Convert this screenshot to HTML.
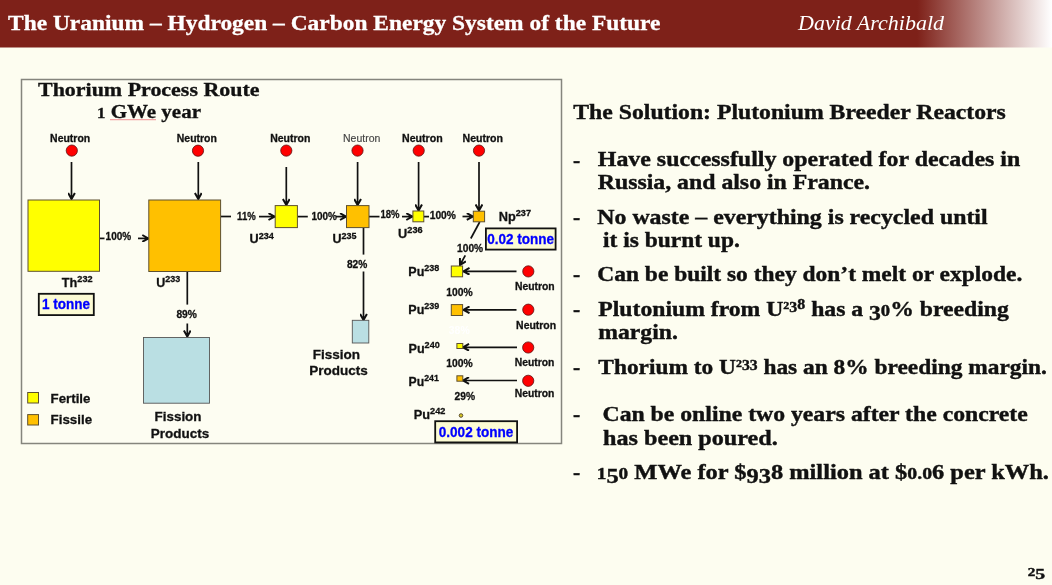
<!DOCTYPE html>
<html><head><meta charset="utf-8">
<style>
html,body{margin:0;padding:0;}
body{width:1052px;height:585px;overflow:hidden;background:#fdfdf0;position:relative;}
svg{position:absolute;left:0;top:0;will-change:transform;}
.sv{font-family:"Liberation Serif",serif;font-weight:bold;}
.sa{font-family:"Liberation Sans",sans-serif;font-weight:bold;stroke:currentColor;stroke-width:0.3px;}
</style></head><body>
<svg width="1052" height="585" viewBox="0 0 1052 585">
<defs>
<linearGradient id="hg" x1="0" y1="0" x2="1052" y2="0" gradientUnits="userSpaceOnUse">
<stop offset="0.872" stop-color="#7e2119"/>
<stop offset="1" stop-color="#ffffff"/>
</linearGradient>
<marker id="ah" markerWidth="8" markerHeight="8" refX="7" refY="4" orient="auto" markerUnits="userSpaceOnUse">
<path d="M1,0.6 L7,4 L1,7.4" fill="none" stroke="#111" stroke-width="2"/><path d="M3.5,2.3 L7.3,4 L3.5,5.7 z" fill="#111"/>
</marker>
</defs>
<rect x="0" y="0" width="1052" height="47.5" fill="url(#hg)"/>
<text class="sv" x="8" y="29.7" font-size="22" fill="#fff" stroke="#fff" stroke-width="0.3" textLength="652.5" lengthAdjust="spacingAndGlyphs">The Uranium – Hydrogen – Carbon Energy System of the Future</text>
<text x="798" y="29.7" font-size="21" fill="#fff" textLength="146" lengthAdjust="spacingAndGlyphs" style="font-family:'Liberation Serif',serif;font-style:italic">David Archibald</text>

<!-- diagram box -->
<rect x="21.5" y="79.5" width="540" height="364" fill="#fdfdf2" stroke="#85857d" stroke-width="1.5"/>
<text class="sv" x="38" y="95.6" font-size="18.5" fill="#111" stroke="#111" stroke-width="0.3" textLength="221.5" lengthAdjust="spacingAndGlyphs">Thorium Process Route</text>
<text class="sv" x="97" y="118" font-size="18.5" fill="#111" stroke="#111" stroke-width="0.3" textLength="104" lengthAdjust="spacingAndGlyphs"><tspan font-size="14.8">1</tspan> GWe year</text>
<path d="M110,119.6 L156,119.6" fill="none" stroke="#f2a4a4" stroke-width="1.1"/>

<g class="sa" font-size="10.5" fill="#111" color="#111">
<text x="50.1" y="141.7" textLength="40.1" lengthAdjust="spacingAndGlyphs">Neutron</text>
<text x="176.8" y="141.7" textLength="40" lengthAdjust="spacingAndGlyphs">Neutron</text>
<text x="270.2" y="141.7" textLength="40.2" lengthAdjust="spacingAndGlyphs">Neutron</text>
<text x="343" y="141.7" textLength="37.3" lengthAdjust="spacingAndGlyphs" fill="#444" color="#444" style="font-weight:normal;stroke-width:0.15px">Neutron</text>
<text x="402" y="141.7" textLength="40.6" lengthAdjust="spacingAndGlyphs">Neutron</text>
<text x="462.5" y="141.7" textLength="40.5" lengthAdjust="spacingAndGlyphs">Neutron</text>
<text x="515" y="289.9" textLength="39.7" lengthAdjust="spacingAndGlyphs">Neutron</text>
<text x="516.1" y="328.9" textLength="40" lengthAdjust="spacingAndGlyphs">Neutron</text>
<text x="514.7" y="365.5" textLength="39.6" lengthAdjust="spacingAndGlyphs">Neutron</text>
<text x="514.7" y="397.4" textLength="39.6" lengthAdjust="spacingAndGlyphs">Neutron</text>
</g>
<g fill="#ff0000" stroke="#5a1010" stroke-width="0.8">
<circle cx="71.8" cy="150.6" r="5.6"/>
<circle cx="198" cy="150.7" r="5.6"/>
<circle cx="286.3" cy="150.6" r="5.6"/>
<circle cx="357.5" cy="150.6" r="5.6"/>
<circle cx="418.7" cy="150.6" r="5.6"/>
<circle cx="479" cy="150.6" r="5.6"/>
<circle cx="528.3" cy="271.4" r="5.6"/>
<circle cx="528.3" cy="309.7" r="5.6"/>
<circle cx="528.2" cy="347.5" r="5.6"/>
<circle cx="528.2" cy="380.8" r="5.6"/>
</g>
<g stroke="#111" stroke-width="1.7" fill="none" marker-end="url(#ah)">
<line x1="71.5" y1="162" x2="71.5" y2="199"/>
<line x1="198.3" y1="162" x2="198.3" y2="199"/>
<line x1="286.3" y1="167" x2="286.3" y2="205"/>
<line x1="357.6" y1="162" x2="357.6" y2="205"/>
<line x1="418.6" y1="162" x2="418.6" y2="210.5"/>
<line x1="479" y1="162" x2="479" y2="210.5"/>
<line x1="138" y1="238.4" x2="148.3" y2="238.4"/>
<line x1="259" y1="216.6" x2="274.5" y2="216.6"/>
<line x1="336" y1="216.6" x2="346" y2="216.6"/>
<line x1="402" y1="216.6" x2="412.3" y2="216.6"/>
<line x1="462.5" y1="216.5" x2="472.8" y2="216.5"/>
<line x1="465.3" y1="255.3" x2="460" y2="265"/>
<line x1="516.5" y1="271.3" x2="463.5" y2="271.3"/>
<line x1="516.5" y1="309.8" x2="463.5" y2="309.8"/>
<line x1="517" y1="347.3" x2="463" y2="347.3"/>
<line x1="517" y1="380.5" x2="463" y2="380.5"/>
<line x1="187.3" y1="323.5" x2="187.3" y2="336.5"/>
<line x1="363.5" y1="271.5" x2="363.5" y2="320"/>
</g>
<g stroke="#111" stroke-width="1.7" fill="none">
<line x1="100" y1="238.4" x2="104.5" y2="238.4"/>
<line x1="221" y1="216.5" x2="231" y2="216.5"/>
<line x1="297.5" y1="216.6" x2="307.8" y2="216.6"/>
<line x1="369" y1="216.6" x2="379.5" y2="216.6"/>
<line x1="424" y1="216.6" x2="429" y2="216.6"/>
<line x1="479.7" y1="222" x2="470.8" y2="238.5"/>
<line x1="187.3" y1="271.5" x2="187.3" y2="304.6"/>
<line x1="363.5" y1="227.5" x2="363.5" y2="254.6"/>
</g>
<!-- boxes -->
<g stroke="#5e5030" stroke-width="1">
<rect x="28" y="200" width="71.5" height="71.3" fill="#ffff00"/>
<rect x="148.8" y="200" width="71.8" height="71.5" fill="#ffc000"/>
<rect x="275.2" y="205.6" width="22.2" height="22" fill="#ffff00"/>
<rect x="346.5" y="205.6" width="22.5" height="22" fill="#ffc000"/>
<rect x="412.9" y="211" width="10.9" height="10.8" fill="#ffff00"/>
<rect x="473.3" y="211.2" width="11.3" height="10.6" fill="#ffc000"/>
<rect x="451.3" y="266" width="11.3" height="10.8" fill="#ffff00"/>
<rect x="451.3" y="304.6" width="11.3" height="10.9" fill="#ffc000"/>
<rect x="456.9" y="343.5" width="5.9" height="5" fill="#ffff00"/>
<rect x="456.9" y="375.8" width="5.9" height="5.4" fill="#ffc000"/>
<circle cx="461" cy="415.5" r="1.8" fill="#d8c820"/>
<rect x="27.7" y="392.5" width="10.8" height="10.5" fill="#ffff00"/>
<rect x="27.7" y="414.6" width="10.8" height="10.4" fill="#ffc000"/>
</g>
<g stroke="#555" stroke-width="0.9" fill="#badfe3">
<rect x="143.5" y="337.5" width="66" height="65.7"/>
<rect x="352.3" y="320.3" width="16.5" height="22.7"/>
</g>
<!-- tonne boxes -->
<g stroke="#111" stroke-width="1.8" fill="#fcfbd4">
<rect x="38.8" y="293.8" width="55" height="21.3"/>
<rect x="485.9" y="228.4" width="69.7" height="21.2"/>
<rect x="435.2" y="421.2" width="81.9" height="21.2"/>
</g>
<g class="sa" fill="#0000ff" color="#0000ff" font-size="13.8">
<text x="42" y="309.2" textLength="47.9" lengthAdjust="spacingAndGlyphs">1 tonne</text>
<text x="487.2" y="243.8" textLength="66.8" lengthAdjust="spacingAndGlyphs">0.02 tonne</text>
<text x="438.8" y="436.6" textLength="74.5" lengthAdjust="spacingAndGlyphs">0.002 tonne</text>
</g>
<!-- labels -->
<g class="sa" fill="#111" color="#111" font-size="13.5">
<text x="61.8" y="286.7" textLength="30.8" lengthAdjust="spacingAndGlyphs">Th<tspan font-size="9.7" dy="-4.6">232</tspan></text>
<text x="156.2" y="286.9" textLength="24" lengthAdjust="spacingAndGlyphs">U<tspan font-size="9.7" dy="-4.6">233</tspan></text>
<text x="249.5" y="243.1" textLength="24.3" lengthAdjust="spacingAndGlyphs">U<tspan font-size="9.7" dy="-4.6">234</tspan></text>
<text x="332.4" y="243.1" textLength="24" lengthAdjust="spacingAndGlyphs">U<tspan font-size="9.7" dy="-4.6">235</tspan></text>
<text x="398.1" y="237.8" textLength="24.5" lengthAdjust="spacingAndGlyphs">U<tspan font-size="9.7" dy="-4.6">236</tspan></text>
<text x="498.7" y="221" textLength="32.3" lengthAdjust="spacingAndGlyphs">Np<tspan font-size="9.7" dy="-4.6">237</tspan></text>
<text x="408.3" y="275.9" textLength="31.1" lengthAdjust="spacingAndGlyphs">Pu<tspan font-size="9.7" dy="-4.6">238</tspan></text>
<text x="408.3" y="313.9" textLength="31.1" lengthAdjust="spacingAndGlyphs">Pu<tspan font-size="9.7" dy="-4.6">239</tspan></text>
<text x="408.5" y="352.7" textLength="31.2" lengthAdjust="spacingAndGlyphs">Pu<tspan font-size="9.7" dy="-4.6">240</tspan></text>
<text x="408.5" y="385.5" textLength="30.3" lengthAdjust="spacingAndGlyphs">Pu<tspan font-size="9.7" dy="-4.6">241</tspan></text>
<text x="413.8" y="418.8" textLength="31.6" lengthAdjust="spacingAndGlyphs">Pu<tspan font-size="9.7" dy="-4.6">242</tspan></text>
<text x="50.6" y="402.5" font-size="13.4" textLength="39.8" lengthAdjust="spacingAndGlyphs">Fertile</text>
<text x="50.6" y="424.3" font-size="13.4" textLength="41.5" lengthAdjust="spacingAndGlyphs">Fissile</text>
<text x="154.6" y="420.9" font-size="13.3" textLength="46.9" lengthAdjust="spacingAndGlyphs">Fission</text>
<text x="150.8" y="437.7" font-size="13.3" textLength="58.4" lengthAdjust="spacingAndGlyphs">Products</text>
<text x="312.7" y="358.5" font-size="13.3" textLength="47.3" lengthAdjust="spacingAndGlyphs">Fission</text>
<text x="309.2" y="375" font-size="13.3" textLength="58.5" lengthAdjust="spacingAndGlyphs">Products</text>
</g>
<g class="sa" fill="#111" color="#111" font-size="11">
<text x="105.6" y="240.4" textLength="25.6" lengthAdjust="spacingAndGlyphs">100%</text>
<text x="237.1" y="219.5" textLength="18.6" lengthAdjust="spacingAndGlyphs">11%</text>
<text x="311.5" y="219.5" textLength="25.4" lengthAdjust="spacingAndGlyphs">100%</text>
<text x="380.4" y="218.4" textLength="19.1" lengthAdjust="spacingAndGlyphs">18%</text>
<text x="429.7" y="218.7" textLength="26.2" lengthAdjust="spacingAndGlyphs">100%</text>
<text x="457.1" y="251.5" textLength="26" lengthAdjust="spacingAndGlyphs">100%</text>
<text x="446.2" y="295.6" textLength="26.4" lengthAdjust="spacingAndGlyphs">100%</text>
<text x="446.2" y="367.3" textLength="26.4" lengthAdjust="spacingAndGlyphs">100%</text>
<text x="454.6" y="399.9" textLength="20.5" lengthAdjust="spacingAndGlyphs">29%</text>
<text x="176.4" y="317.7" textLength="20.5" lengthAdjust="spacingAndGlyphs">89%</text>
<text x="346.9" y="268" textLength="20.4" lengthAdjust="spacingAndGlyphs">82%</text>
</g>

<text class="sa" x="448.8" y="333.7" font-size="11" fill="#ffffff" color="#ffffff" style="stroke:none" textLength="20.9" lengthAdjust="spacingAndGlyphs">38%</text>
<!-- right text -->
<g class="sv" fill="#111" font-size="21.6" stroke="#111" stroke-width="0.4">
<text x="573.3" y="118.5" textLength="432.5" lengthAdjust="spacingAndGlyphs">The Solution: Plutonium Breeder Reactors</text>
<text x="573" y="166.5">-</text>
<text x="597.8" y="166.1" textLength="422.4" lengthAdjust="spacingAndGlyphs">Have successfully operated for decades in</text>
<text x="597.8" y="188.9" textLength="272.2" lengthAdjust="spacingAndGlyphs">Russia, and also in France.</text>
<text x="573" y="224.0">-</text>
<text x="597.3" y="223.8" textLength="390.3" lengthAdjust="spacingAndGlyphs">No waste – everything is recycled until</text>
<text x="603" y="247.2" textLength="136.8" lengthAdjust="spacingAndGlyphs">it is burnt up.</text>
<text x="573" y="281.0">-</text>
<text x="597.3" y="281.0" textLength="425.0" lengthAdjust="spacingAndGlyphs">Can be built so they don’t melt or explode.</text>
<text x="573" y="315.5">-</text>
<text x="598.3" y="315.5" textLength="410.5" lengthAdjust="spacingAndGlyphs">Plutonium from U<tspan font-size="11" dy="-7">2</tspan><tspan font-size="14.5" dy="3.4">3</tspan><tspan font-size="14.5" dy="-3.4">8</tspan><tspan dy="7"> has a </tspan><tspan dy="4">3</tspan><tspan dy="-4" font-size="17">0</tspan><tspan>% breeding</tspan></text>
<text x="598.3" y="339.0" textLength="79.5" lengthAdjust="spacingAndGlyphs">margin.</text>
<text x="573" y="373.8">-</text>
<text x="598.3" y="373.8" textLength="448.5" lengthAdjust="spacingAndGlyphs">Thorium to U<tspan font-size="11" dy="-7">2</tspan><tspan font-size="14.5" dy="3.4">33</tspan><tspan dy="3.6"> has an 8% breeding margin.</tspan></text>
<text x="573" y="421.2">-</text>
<text x="602.5" y="421.2" textLength="425.3" lengthAdjust="spacingAndGlyphs">Can be online two years after the concrete</text>
<text x="603" y="445.3" textLength="174.8" lengthAdjust="spacingAndGlyphs">has been poured.</text>
<text x="573" y="478.8">-</text>
<text x="596.8" y="478.8" textLength="452.2" lengthAdjust="spacingAndGlyphs"><tspan font-size="17">1</tspan><tspan dy="4">5</tspan><tspan dy="-4" font-size="17">0</tspan><tspan> MWe for $</tspan><tspan dy="4">93</tspan><tspan dy="-4">8 million at $</tspan><tspan font-size="17.5">0.0</tspan><tspan>6 per kWh.</tspan></text>
<text x="1027.7" y="576.2" font-size="13" textLength="17.5" lengthAdjust="spacingAndGlyphs"><tspan font-size="11.5">2</tspan><tspan dy="2.7" font-size="15">5</tspan></text>
</g>
</svg>
</body></html>
